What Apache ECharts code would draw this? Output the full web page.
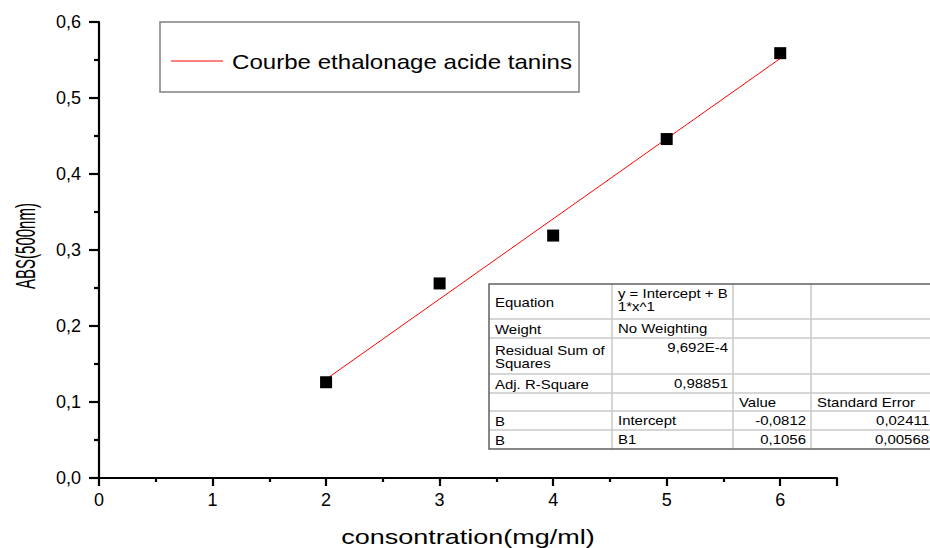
<!DOCTYPE html>
<html>
<head>
<meta charset="utf-8">
<script src="https://cdn.jsdelivr.net/npm/echarts@6/dist/echarts.min.js"></script>
<style>
html,body{margin:0;padding:0;background:#fff;}
#chart{width:930px;height:548px;}
</style>
</head>
<body>
<div id="chart"></div>
<script>
// ---- data ----
var concX = [2, 3, 4, 5, 6];
var absY = [0.126, 0.256, 0.319, 0.446, 0.559];
var fitX = [2, 6];
var fitY = [0.13, 0.552];
var seriesName = 'Courbe ethalonage acide tanins';
var xTitle = 'consontration(mg/ml)';
var yTitle = 'ABS(500nm)';
var tableCol1 = ['Equation', 'Weight', 'Residual Sum of\nSquares', 'Adj. R-Square', '', 'B', 'B'];
var tableCol2 = ['y = Intercept + B\n1*x^1', 'No Weighting', '9,692E-4', '0,98851', '', 'Intercept', 'B1'];
var tableCol3 = ['', '', '', '', 'Value', '-0,0812', '0,1056'];
var tableCol4 = ['', '', '', '', 'Standard Error', '0,02411', '0,00568'];

// ---- layout helpers ----
var FONT = '"Liberation Sans", Arial, sans-serif';
var rowEdges = [284, 319, 338, 374, 393, 411, 430, 449];
var colEdges = [489, 612, 733, 811, 934];
var isNum = function (s) { return /^-?[0-9]/.test(s); };

var scatterData = concX.map(function (x, i) { return [x, absY[i]]; });
var fitData = fitX.map(function (x, i) { return [x, fitY[i]]; });

var graphics = [];
graphics.push({ type: 'rect', shape: { x: colEdges[0], y: rowEdges[0], width: colEdges[4] - colEdges[0], height: rowEdges[7] - rowEdges[0] }, style: { fill: '#fff', stroke: null }, z: 100 });
for (var r = 1; r < rowEdges.length - 1; r++) {
  graphics.push({ type: 'line', shape: { x1: colEdges[0], y1: rowEdges[r], x2: colEdges[4], y2: rowEdges[r] }, style: { stroke: '#c8c8c8', lineWidth: 1.5 }, z: 101 });
}
for (var c = 1; c < colEdges.length - 1; c++) {
  graphics.push({ type: 'line', shape: { x1: colEdges[c], y1: rowEdges[0], x2: colEdges[c], y2: rowEdges[7] }, style: { stroke: '#c8c8c8', lineWidth: 1.5 }, z: 101 });
}
graphics.push({ type: 'polyline', shape: { points: [[colEdges[4], rowEdges[0]], [colEdges[0], rowEdges[0]], [colEdges[0], rowEdges[7]], [colEdges[4], rowEdges[7]]] }, style: { stroke: '#606060', lineWidth: 1.5, fill: null }, z: 102 });
var cols = [tableCol1, tableCol2, tableCol3, tableCol4];
cols.forEach(function (col, ci) {
  col.forEach(function (txt, ri) {
    if (!txt) return;
    var top = rowEdges[ri], bot = rowEdges[ri + 1];
    var num = isNum(txt) && ci > 0;
    var x = num ? colEdges[ci + 1] - 5 : colEdges[ci] + 6;
    var y, va;
    if (ci === 0) { y = (top + bot) / 2 + 1; va = 'middle'; }
    else { y = top + 3; va = 'top'; }
    graphics.push({
      type: 'text', x: x, y: y, scaleX: 1.15, z: 103,
      style: { text: txt, font: '13px ' + FONT, fill: '#000', align: num ? 'right' : 'left', verticalAlign: va, textAlign: num ? 'right' : 'left', textVerticalAlign: va, lineHeight: 13 }
    });
  });
});
// legend box
graphics.push({ type: 'rect', shape: { x: 160, y: 22, width: 419, height: 70 }, style: { fill: '#fff', stroke: '#808080', lineWidth: 1.5 }, z: 100 });
graphics.push({ type: 'line', shape: { x1: 171, y1: 61, x2: 223, y2: 61 }, style: { stroke: '#ff0000', lineWidth: 1 }, z: 101 });
graphics.push({ type: 'text', x: 232, y: 62, scaleX: 1.205, z: 101, style: { text: seriesName, font: '20px ' + FONT, fill: '#000', align: 'left', verticalAlign: 'middle', textAlign: 'left', textVerticalAlign: 'middle' } });
// axis titles
graphics.push({ type: 'text', x: 468, y: 537, scaleX: 1.35, style: { text: xTitle, font: '20px ' + FONT, fill: '#000', align: 'center', verticalAlign: 'middle', textAlign: 'center', textVerticalAlign: 'middle' } });
graphics.push({ type: 'text', x: 25, y: 246, rotation: Math.PI / 2, scaleY: 1.9, style: { text: yTitle, font: '15px ' + FONT, fill: '#000', align: 'center', verticalAlign: 'middle', textAlign: 'center', textVerticalAlign: 'middle' } });

var chart = echarts.init(document.getElementById('chart'), null, { renderer: 'svg' });
chart.setOption({
  animation: false,
  backgroundColor: '#fff',
  grid: { left: 99, right: 93, top: 22, bottom: 70, outerBoundsMode: 'none', containLabel: false },
  xAxis: {
    type: 'value', min: 0, max: 6.5, interval: 1,
    splitLine: { show: false },
    axisLine: { onZero: false, lineStyle: { color: '#000', width: 2.2 } },
    axisTick: { inside: false, length: 8, lineStyle: { color: '#000', width: 2.2 } },
    minorTick: { show: true, splitNumber: 2, length: 4, lineStyle: { color: '#000', width: 2.2 } },
    axisLabel: { margin: 13, color: '#000', fontSize: 18, fontFamily: FONT,
      formatter: function (v) { return (Math.abs(v - Math.round(v)) < 1e-9) ? String(Math.round(v)) : ''; } }
  },
  yAxis: {
    type: 'value', min: 0, max: 0.6, interval: 0.1,
    splitLine: { show: false },
    axisLine: { onZero: false, lineStyle: { color: '#000', width: 2.2 } },
    axisTick: { inside: false, length: 10, lineStyle: { color: '#000', width: 2.2 } },
    minorTick: { show: true, splitNumber: 2, length: 5, lineStyle: { color: '#000', width: 2.2 } },
    axisLabel: { margin: 18, color: '#000', fontSize: 18, fontFamily: FONT,
      formatter: function (v) { return v.toFixed(1).replace('.', ','); } }
  },
  series: [
    { name: seriesName, type: 'line', data: fitData, symbol: 'none', lineStyle: { color: '#ff0000', width: 1 }, z: 2 },
    { name: 'data', type: 'scatter', data: scatterData, symbol: 'rect', symbolSize: 12, itemStyle: { color: '#000', opacity: 1 }, z: 3 }
  ],
  graphic: { elements: graphics }
});
</script>
</body>
</html>
